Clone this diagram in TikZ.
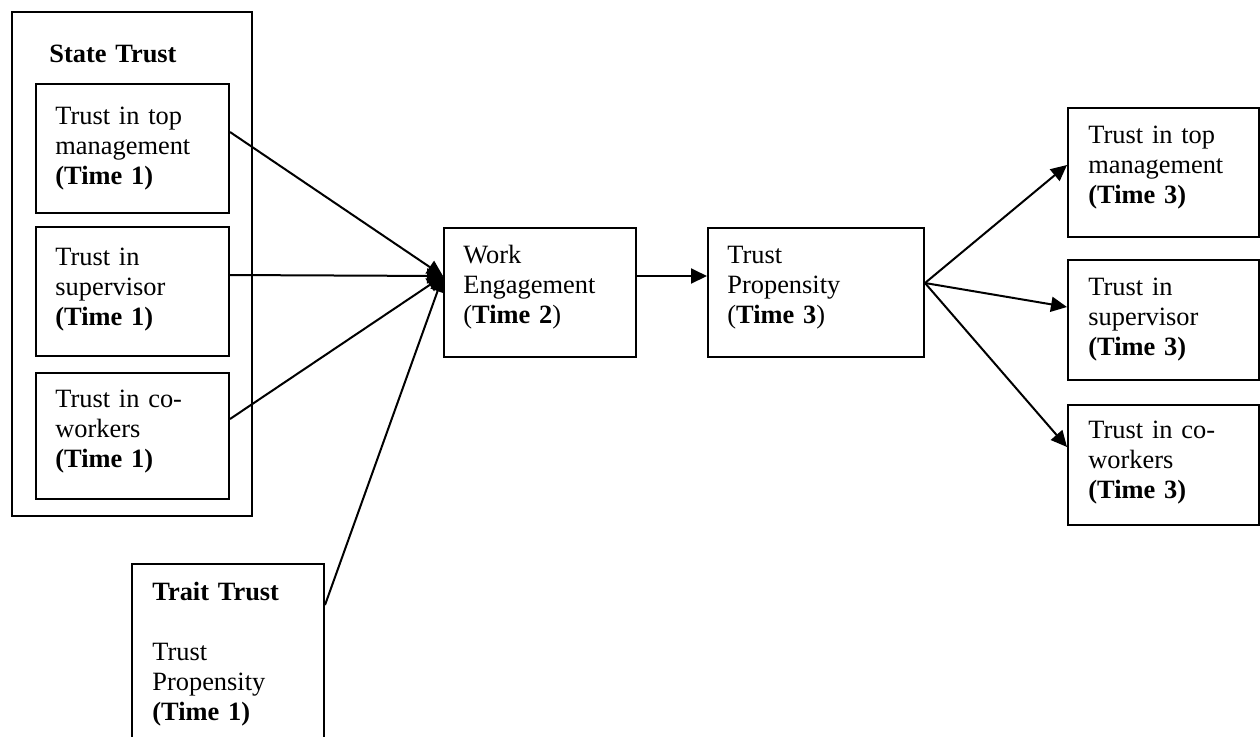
\documentclass[tikz,border=0pt]{standalone}
\usepackage{fontspec}
\setmainfont{Liberation Serif}
\usetikzlibrary{arrows.meta}
\begin{document}
\begin{tikzpicture}[x=0.5pt,y=-0.5pt,
  box/.style={draw, line width=1pt, inner sep=0pt, anchor=north west},
  txt/.style={anchor=base west, inner sep=0pt, align=left, text width=110pt,
    font=\fontsize{13.2}{15}\selectfont},
  conn/.style={line width=1pt},
  arr/.style={line width=1pt, -{Triangle[length=8pt,width=7.5pt]}}]
\useasboundingbox (0,0) rectangle (1260,736);
\clip (0,0) rectangle (1260,736);
% state trust group
\node[box, minimum width=120pt, minimum height=252pt] (state) at (11,11) {};
\node[txt] (statet) at (49,62) {\textbf{State Trust}};
\node[box, minimum width=96.5pt, minimum height=64.5pt] (b1) at (35,83) {};
\node[txt] (b1t) at (55,124) {Trust in top\\management\\\textbf{(Time 1)}};
\node[box, minimum width=96.5pt, minimum height=64.5pt] (b2) at (35,226) {};
\node[txt] (b2t) at (55,265) {Trust in\\supervisor\\\textbf{(Time 1)}};
\node[box, minimum width=96.5pt, minimum height=63pt] (b3) at (35,372) {};
\node[txt] (b3t) at (55,407) {Trust in co-\\workers\\\textbf{(Time 1)}};
% trait trust
\node[box, minimum width=96pt, minimum height=100pt] (trait) at (131,563) {};
\node[txt] (traitt) at (152,600) {\textbf{Trait Trust}\\[15pt]Trust\\Propensity\\\textbf{(Time 1)}};
% middle
\node[box, minimum width=96pt, minimum height=64.5pt] (we) at (443,227) {};
\node[txt] (wet) at (463,263) {Work\\Engagement\\(\textbf{Time 2})};
\node[box, minimum width=108pt, minimum height=64.5pt] (tp) at (707,227) {};
\node[txt] (tpt) at (727,263) {Trust\\Propensity\\(\textbf{Time 3})};
% right
\node[box, minimum width=95.5pt, minimum height=64.5pt] (r1) at (1067,107) {};
\node[txt] (r1t) at (1088,143) {Trust in top\\management\\\textbf{(Time 3)}};
\node[box, minimum width=95.5pt, minimum height=60pt] (r2) at (1067,259) {};
\node[txt] (r2t) at (1088,295) {Trust in\\supervisor\\\textbf{(Time 3)}};
\node[box, minimum width=95.5pt, minimum height=60pt] (r3) at (1067,404) {};
\node[txt] (r3t) at (1088,438) {Trust in co-\\workers\\\textbf{(Time 3)}};
% connectors
\coordinate (wein) at ([yshift=-24.5pt]we.north west);
\draw[arr] ([yshift=-24.5pt]b1.north east) -- (wein);
\draw[arr] ([yshift=-24.5pt]b2.north east) -- (wein);
\draw[arr] ([yshift=-23.5pt]b3.north east) -- (wein);
\draw[arr] ([yshift=-21pt]trait.north east) -- (wein);
\draw[arr] (wein -| we.east) -- (wein -| tp.west);
\coordinate (tpout) at ([yshift=-28pt]tp.north east);
\draw[arr] (tpout) -- ([yshift=-29pt]r1.north west);
\draw[arr] (tpout) -- ([yshift=-24pt]r2.north west);
\draw[arr] (tpout) -- ([yshift=-21.5pt]r3.north west);
\end{tikzpicture}
\end{document}
